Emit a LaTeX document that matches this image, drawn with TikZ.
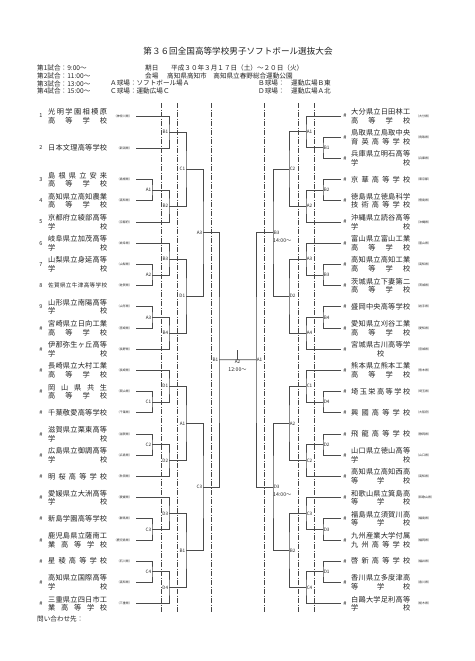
\documentclass[tikz,border=0pt]{standalone}
\usepackage{fontspec}
\setmainfont{Noto Sans CJK JP}
\usepackage{tikz}
\usetikzlibrary{calc,positioning}
\definecolor{inkgray}{RGB}{35,35,35}
\definecolor{linegray}{RGB}{75,75,75}
\definecolor{guidegray}{RGB}{70,70,70}

\newlength\namew
\setlength\namew{59pt}
% spread the characters of a name over the name column
\def\jspx#1#2{#1\ifx\relax#2\else\hfill\expandafter\jspx\expandafter#2\fi}
\newcommand\jsp[1]{\hbox to\namew{\jspx#1\relax}}
% one game: name, x of the bar, upper entry, lower entry, label, label anchor
\newcommand\bmatch[6]{%
  \path let \p1=(#3), \p2=(#4) in (#2pt,{0.5*\y1+0.5*\y2}) coordinate (#1);
  \draw[bline] (#3) -| (#1) |- (#4);
  \node[mlbl,anchor=#6] (#1t) at (#1) {#5};
}

\tikzset{
  bline/.style={draw=linegray,line width=0.85pt},
  guide/.style={draw=guidegray,line width=0.6pt,dash pattern=on 5pt off 1.5pt on 1pt off 1.5pt},
  tname/.style={inner sep=0pt,align=left,text=inkgray,font=\fontsize{7.2}{8.6}\selectfont},
  tnum/.style={inner sep=0pt,text=inkgray,font=\fontsize{5.5}{6}\selectfont},
  tpref/.style={inner sep=0pt,text=inkgray,font=\fontsize{3}{3.5}\selectfont},
  mlbl/.style={inner sep=0.6pt,text=inkgray,font=\fontsize{4.6}{5}\selectfont},
  tlbl/.style={inner sep=0pt,text=inkgray,font=\fontsize{5.2}{6}\selectfont},
  head/.style={inner sep=0pt,anchor=west,text=inkgray,font=\fontsize{6.6}{7}\selectfont},
}

\begin{document}
\begin{tikzpicture}[x=1pt,y=-1pt]
  \fill[white] (0,0) rectangle (474,661);
  \useasboundingbox (0,0) rectangle (474,661);

  % heading
  \node[inner sep=0pt,text=inkgray,font=\fontsize{8.6}{9}\selectfont] (title) at (238,51)
    {第３６回全国高等学校男子ソフトボール選抜大会};
  \node[head] (g1) at (37,68) {第1試合：9:00～};
  \node[head] (g2) at (37,76) {第2試合：11:00～};
  \node[head] (g3) at (37,83.5) {第3試合：13:00～};
  \node[head] (g4) at (37,91) {第4試合：15:00～};
  \node[head] (datek) at (145,68) {期日};
  \node[head] (datev) at (171,68) {平成３０年３月１７日（土）～２０日（火）};
  \node[head] (sitek) at (145,76) {会場};
  \node[head] (sitev) at (167,76) {高知県高知市　高知県立春野総合運動公園};
  \node[head] (fielda) at (110,83.5) {Ａ球場：ソフトボール場Ａ};
  \node[head] (fieldb) at (258,83.5) {Ｂ球場：　運動広場Ｂ東};
  \node[head] (fieldc) at (110,91) {Ｃ球場：運動広場Ｃ};
  \node[head] (fieldd) at (258,91) {Ｄ球場：　運動広場Ａ北};
  \node[head] (contact) at (37,619) {問い合わせ先：};

  % field columns
  \foreach \gx in {161,177,211,264,298,314}
    \draw[guide] (\gx,103) -- (\gx,613);

  % left half teams
  \foreach \i/\nm/\pr in {
    1/{\jsp{光明学園相模原}\\\jsp{高等学校}}/神奈川県,
    2/{\jsp{日本文理高等学校}}/新潟県,
    3/{\jsp{島根県立安来}\\\jsp{高等学校}}/島根県,
    4/{\jsp{高知県立高知農業}\\\jsp{高等学校}}/高知県,
    5/{\jsp{京都府立綾部高等}\\\jsp{学校}}/京都府,
    6/{\jsp{岐阜県立加茂高等}\\\jsp{学校}}/岐阜県,
    7/{\jsp{山梨県立身延高等}\\\jsp{学校}}/山梨県,
    8/{{\fontsize{5.6}{6}\selectfont\jsp{佐賀県立牛津高等学校}}}/佐賀県,
    9/{\jsp{山形県立南陽高等}\\\jsp{学校}}/山形県,
    10/{\jsp{宮崎県立日向工業}\\\jsp{高等学校}}/宮崎県,
    11/{\jsp{伊那弥生ヶ丘高等}\\\jsp{学校}}/長野県,
    12/{\jsp{長崎県立大村工業}\\\jsp{高等学校}}/長崎県,
    13/{\jsp{岡山県共生}\\\jsp{高等学校}}/岡山県,
    14/{\jsp{千葉敬愛高等学校}}/千葉県,
    15/{\jsp{滋賀県立栗東高等}\\\jsp{学校}}/滋賀県,
    16/{\jsp{広島県立御調高等}\\\jsp{学校}}/広島県,
    17/{\jsp{明桜高等学校}}/秋田県,
    18/{\jsp{愛媛県立大洲高等}\\\jsp{学校}}/愛媛県,
    19/{\jsp{新島学園高等学校}}/群馬県,
    20/{\jsp{鹿児島県立薩南工}\\\jsp{業高等学校}}/鹿児島県,
    21/{\jsp{星稜高等学校}}/石川県,
    22/{\jsp{高知県立国際高等}\\\jsp{学校}}/高知県,
    23/{\jsp{三重県立四日市工}\\\jsp{業高等学校}}/三重県}{
    \pgfmathsetmacro\ty{\i==1 ? 116 : (\i==2 ? 148 : 116+\i*21.2)}
    \node[tnum] (ln\i) at (41,\ty) {\ifnum\i<10 \i\else\#\fi};
    \node[tname,anchor=west] (lnm\i) at (48,\ty) {\nm};
    \node[tpref,anchor=east] (lpr\i) at (132,\ty) {（\pr）};
    \coordinate (lt\i) at (136,\ty);
  }

  % right half teams
  \foreach \i/\nm/\pr in {
    1/{\jsp{大分県立日田林工}\\\jsp{高等学校}}/大分県,
    2/{\jsp{鳥取県立鳥取中央}\\\jsp{育英高等学校}}/鳥取県,
    3/{\jsp{兵庫県立明石高等}\\\jsp{学校}}/兵庫県,
    4/{\jsp{京華高等学校}}/東京都,
    5/{\jsp{徳島県立徳島科学}\\\jsp{技術高等学校}}/徳島県,
    6/{\jsp{沖縄県立読谷高等}\\\jsp{学校}}/沖縄県,
    7/{\jsp{富山県立富山工業}\\\jsp{高等学校}}/富山県,
    8/{\jsp{高知県立高知工業}\\\jsp{高等学校}}/高知県,
    9/{\jsp{茨城県立下妻第二}\\\jsp{高等学校}}/茨城県,
    10/{\jsp{盛岡中央高等学校}}/岩手県,
    11/{\jsp{愛知県立刈谷工業}\\\jsp{高等学校}}/愛知県,
    12/{\jsp{宮城県古川高等学}\\\jsp{{\hfil 校\hfil}}}/宮城県,
    13/{\jsp{熊本県立熊本工業}\\\jsp{高等学校}}/熊本県,
    14/{\jsp{埼玉栄高等学校}}/埼玉県,
    15/{\jsp{興國高等学校}}/大阪府,
    16/{\jsp{飛龍高等学校}}/静岡県,
    17/{\jsp{山口県立徳山高等}\\\jsp{学校}}/山口県,
    18/{\jsp{高知県立高知西高}\\\jsp{等学校}}/高知県,
    19/{\jsp{和歌山県立箕島高}\\\jsp{等学校}}/和歌山県,
    20/{\jsp{福島県立須賀川高}\\\jsp{等学校}}/福島県,
    21/{\jsp{九州産業大学付属}\\\jsp{九州高等学校}}/福岡県,
    22/{\jsp{啓新高等学校}}/福井県,
    23/{\jsp{香川県立多度津高}\\\jsp{等学校}}/香川県,
    24/{\jsp{白鷗大学足利高等}\\\jsp{学校}}/栃木県}{
    \pgfmathsetmacro\ty{116+(\i-1)*21.2}
    \node[tnum] (rn\i) at (345,\ty) {\#};
    \node[tname,anchor=west] (rnm\i) at (351,\ty) {\nm};
    \node[tpref,anchor=west] (rpr\i) at (416,\ty) {（\pr）};
    \coordinate (rt\i) at (341,\ty);
  }

  % left bracket
  \foreach \m/\a/\b/\l in {LA1/lt3/lt4/A1, LA2/lt7/lt8/A2, LA3/lt9/lt10/A3,
      LC1/lt13/lt14/C1, LC2/lt15/lt16/C2, LC3/lt19/lt20/C3, LC4/lt21/lt22/C4}{
    \bmatch{\m}{152}{\a}{\b}{\l}{east}}
  \foreach \m/\a/\b/\l in {L2a/lt1/lt2/B1, L2b/LA1/lt5/B2, L2c/lt6/LA2/B3,
      L2d/LA3/lt11/B4, L2e/lt12/LC1/D1, L2f/LC2/lt17/D2, L2g/lt18/LC3/D3,
      L2h/LC4/lt23/D4}{
    \bmatch{\m}{169}{\a}{\b}{\l}{east}}
  \foreach \m/\a/\b/\l in {L3a/L2a/L2b/C1, L3b/L2c/L2d/D1,
      L3c/L2e/L2f/A1, L3d/L2g/L2h/B1}{
    \bmatch{\m}{186}{\a}{\b}{\l}{east}}
  \bmatch{L4a}{203}{L3a}{L3b}{A3}{east}
  \bmatch{L4b}{203}{L3c}{L3d}{C3}{east}
  \bmatch{L5}{219}{L4a}{L4b}{B1}{east}

  % right bracket
  \foreach \m/\a/\b/\l in {RB1/rt2/rt3/B1, RB2/rt4/rt5/B2, RB3/rt8/rt9/B3,
      RB4/rt10/rt11/B4, RD4/rt14/rt15/D4, RD2/rt16/rt17/D2, RD3/rt20/rt21/D3,
      RD1/rt22/rt23/D1}{
    \bmatch{\m}{323}{\a}{\b}{\l}{west}}
  \foreach \m/\a/\b/\l in {R2a/rt1/RB1/A1, R2b/RB2/rt6/A2, R2c/rt7/RB3/A3,
      R2d/RB4/rt12/A4, R2e/rt13/RD4/C1, R2f/RD2/rt18/C2, R2g/rt19/RD3/C3,
      R2h/RD1/rt24/C4}{
    \bmatch{\m}{306}{\a}{\b}{\l}{west}}
  \foreach \m/\a/\b/\l in {R3a/R2a/R2b/C2, R3b/R2c/R2d/D2,
      R3c/R2e/R2f/A2, R3d/R2g/R2h/B2}{
    \bmatch{\m}{289}{\a}{\b}{\l}{west}}
  \bmatch{R4a}{273}{R3a}{R3b}{B3}{west}
  \bmatch{R4b}{273}{R3c}{R3d}{D3}{west}
  \bmatch{R5}{256}{R4a}{R4b}{A1}{west}
  \node[tlbl,anchor=north west] (R4atime) at ([yshift=-3pt]R4at.south west) {14:00～};
  \node[tlbl,anchor=north west] (R4btime) at ([yshift=-3pt]R4bt.south west) {14:00～};

  % final
  \draw[bline] (L5) -- (R5);
  \coordinate (fin) at ($(L5)!.5!(R5)$);
  \coordinate (fintop) at ([yshift=10pt]fin);
  \draw[bline] (fin) -- (fintop);
  \node[mlbl,anchor=north] (finlbl) at (fin) {A2};
  \node[tlbl,below=2.5pt of finlbl] (fintime) {12:00～};
\end{tikzpicture}
\end{document}
